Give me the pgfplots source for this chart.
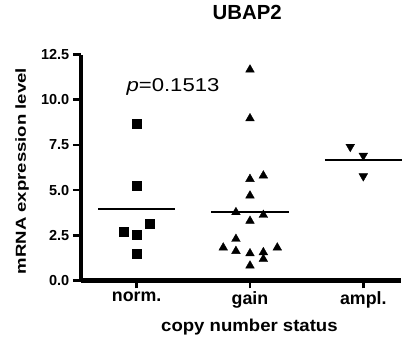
\documentclass[border=0pt]{standalone}
\usepackage{fontspec}
\setmainfont{Liberation Sans}
\newfontfamily\ylabfont{Liberation Sans}[FakeStretch=1.28]
\newfontfamily\xlabfont{Liberation Sans}[FakeStretch=1.08]
\newfontfamily\pfont{Liberation Sans}[FakeStretch=1.19]
\usepackage{pgfplots}
\pgfplotsset{compat=1.18}
\begin{document}
\begin{tikzpicture}
\useasboundingbox (-80.8pt,-59.7pt) rectangle (338.2pt,280.3pt);
\begin{axis}[
  at={(0pt,0pt)}, anchor=south west, scale only axis,
  width=320pt, height=225.6pt,
  xmin=-0.493, xmax=2.331, ymin=0, ymax=12.5,
  axis lines*=left,
  axis line style={line width=4.5pt, black},
  tick style={line width=2.7pt, black},
  major tick length=8pt, tick align=outside,
  xtick={0,1,2}, xticklabels={norm.,gain,ampl.},
  ytick={0,2.5,5,7.5,10,12.5},
  yticklabel style={/pgf/number format/fixed, /pgf/number format/fixed zerofill, /pgf/number format/precision=1, font=\fontsize{14.5}{16}\selectfont\bfseries},
  xticklabel style={font=\fontsize{17.8}{20}\selectfont\bfseries},
  /pgf/number format/assume math mode=true,
  title={UBAP2},
  title style={at={(axis description cs:0.520,1.128)}, anchor=base, font=\fontsize{20.4}{22}\selectfont\bfseries},
  xlabel={copy number status},
  xlabel style={at={(axis description cs:0.527,-0.226)}, anchor=base, font=\xlabfont\fontsize{17.2}{19}\selectfont\bfseries},
  ylabel={mRNA expression level},
  ylabel style={at={(axis description cs:-0.183,0.484)}, anchor=center, font=\ylabfont\fontsize{14.5}{17}\selectfont\bfseries},
  clip=false,
]
% norm.
\addplot[only marks, mark=square*, mark size=4.5pt, black] coordinates {
 (0,8.69) (0,5.22) (0.118,3.12) (-0.118,2.69) (0,2.55) (0,1.49)};
% gain
\addplot[only marks, mark=triangle*, mark size=5pt, black] coordinates {
 (1,11.67) (1,8.97) (1,5.61) (1.118,5.80) (1,4.69) (0.876,3.77) (1.118,3.62)
 (1,3.29) (0.876,2.29) (0.764,1.81) (0.876,1.62) (1,1.49) (1.118,1.55)
 (1.241,1.81) (1.118,1.18) (1,0.81)};
% ampl.
\addplot[only marks, mark=triangle*, mark size=5pt, mark options={rotate=180}, black] coordinates {
 (1.885,7.40) (2,6.91) (2,5.77)};
% means
\addplot[black, line width=2pt, mark=none] coordinates {(-0.34,3.96) (0.34,3.96)};
\addplot[black, line width=2pt, mark=none] coordinates {(0.66,3.77) (1.34,3.77)};
\addplot[black, line width=2pt, mark=none] coordinates {(1.66,6.69) (2.34,6.69)};
\node[anchor=base west, inner sep=0pt, font=\pfont\fontsize{18.6}{20}\selectfont] at (axis cs:-0.091,10.45) {\textit{p}=0.1513};
\end{axis}
\end{tikzpicture}
\end{document}
